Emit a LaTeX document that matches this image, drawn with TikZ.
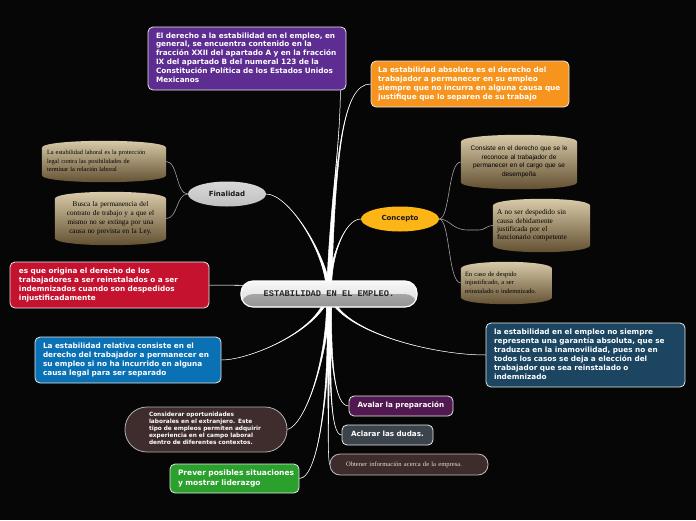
\documentclass[tikz,border=0pt]{standalone}
\usepackage{fontspec}
\usetikzlibrary{calc,shapes.geometric}
\newfontfamily\vsans{DejaVu Sans}
\newfontfamily\lsans{Liberation Sans}
\newfontfamily\lserif{Liberation Serif}
\newfontfamily\lmono{Liberation Mono}
\pgfdeclarelayer{bg}\pgfdeclarelayer{lines}\pgfsetlayers{bg,lines,main}
\definecolor{bgc}{HTML}{060606}
\definecolor{purp}{HTML}{5E2D91}
\definecolor{orng}{HTML}{F7941E}
\definecolor{redc}{HTML}{C4122F}
\definecolor{dblu}{HTML}{1B4560}
\definecolor{blu}{HTML}{0A71B4}
\definecolor{stadc}{HTML}{3F2D2D}
\definecolor{grn}{HTML}{2BA02D}
\definecolor{avalc}{HTML}{51194F}
\definecolor{aclac}{HTML}{3B434C}
\definecolor{obtc}{HTML}{3E2B2B}
\definecolor{tanA}{HTML}{DDD0AE}
\definecolor{tanB}{HTML}{B3A07A}
\definecolor{tanC}{HTML}{5E4B2D}
\definecolor{concc}{HTML}{FDB515}
\definecolor{boxline}{HTML}{E8E8E8}
\definecolor{subline}{HTML}{A0A0A0}
\newcommand\tl[1]{\begin{tabular}{@{}l@{}}#1\end{tabular}}
\newcommand\tc[1]{\begin{tabular}{@{}c@{}}#1\end{tabular}}
\newcommand\conn[4]{%
  \filldraw[white, line width=0.5pt, line join=round]
    ($(hub)-#4$) .. controls #2 and #3 .. #1 .. controls #3 and #2 .. ($(hub)+#4$) -- cycle;}
\newcommand\barrelbg[1]{%
  \shade[top color=tanA, middle color=tanB, bottom color=tanC]
    ($(#1.north west)+(0,7)$) .. controls ($(#1.north west)+(0,-2.33)$) and ($(#1.north east)+(0,-2.33)$) .. ($(#1.north east)+(0,7)$)
    -- ($(#1.south east)+(0,-7)$) .. controls ($(#1.south east)+(0,2.33)$) and ($(#1.south west)+(0,2.33)$) .. ($(#1.south west)+(0,-7)$) -- cycle;}
\tikzset{
  box/.style={draw=boxline, line width=0.8pt, rounded corners=5pt, text=white,
    font={\vsans\bfseries\fontsize{7.3}{8.9}\selectfont}, align=left, inner ysep=0pt},
  smallbox/.style={box, font={\vsans\bfseries\fontsize{7.2}{9}\selectfont}},
  barreltext/.style={inner ysep=0pt, text=black},
  bubble/.style={ellipse, minimum width=78pt, minimum height=25pt, inner sep=0pt,
    font={\vsans\bfseries\fontsize{7}{8}\selectfont}, text=black!90},
  sub/.style={draw=subline, line width=0.6pt}
}
\begin{document}
\begin{tikzpicture}[x=1pt,y=-1pt]
\useasboundingbox (0,0) rectangle (696,520);
\begin{pgfonlayer}{bg}
\fill[bgc] (0,0) rectangle (696,520);
\end{pgfonlayer}
\coordinate (hub) at (329,292);

% main box
\node[draw=white, line width=1.2pt, rounded corners=12pt, minimum width=176pt, minimum height=26pt, inner sep=0pt,
  top color=white!97!black, bottom color=white!85!black,
  path picture={\shade[top color=black!28, bottom color=black!42] (path picture bounding box.west) rectangle (path picture bounding box.south east);},
  font={\lmono\bfseries\fontsize{8.7}{10}\selectfont}, text=black!85] (main) at (329,294) {ESTABILIDAD EN EL EMPLEO.};

% boxes
\node[box, fill=purp, text width=182pt, inner xsep=8pt, minimum height=63pt] (purple) at (247,58.5)
 {\tl{El derecho a la estabilidad en el empleo, en\\general, se encuentra contenido en la\\fracción XXII del apartado A y en la fracción\\IX del apartado B del numeral 123 de la\\Constitución Política de los Estados Unidos\\Mexicanos}};
\node[box, fill=orng, text width=184pt, inner xsep=7pt, minimum height=46pt] (orange) at (470,84)
 {\tl{La estabilidad absoluta es el derecho del\\trabajador a permanecer en su empleo\\siempre que no incurra en alguna causa que\\justifique que lo separen de su trabajo}};
\node[box, fill=redc, text width=181pt, inner xsep=9pt, minimum height=46pt] (red) at (109.5,285)
 {\tl{es que origina el derecho de los\\trabajadores a ser reinstalados o a ser\\indemnizados cuando son despedidos\\injustificadamente}};
\node[box, fill=dblu, text width=183pt, inner xsep=8pt, minimum height=64pt] (dblue) at (585.5,355)
 {\tl{la estabilidad en el empleo no siempre\\representa una garantía absoluta, que se\\traduzca en la inamovilidad, pues no en\\todos los casos se deja a elección del\\trabajador que sea reinstalado o\\indemnizado}};
\node[box, fill=blu, text width=170pt, inner xsep=8pt, minimum height=46pt] (blue) at (128,360)
 {\tl{La estabilidad relativa consiste en el\\derecho del trabajador a permanecer en\\su empleo si no ha incurrido en alguna\\causa legal para ser separado}};
\node[box, fill=stadc, draw=black!30, rounded corners=22pt, text width=114pt, inner xsep=24pt, minimum height=45pt,
  font={\vsans\bfseries\fontsize{5.8}{7}\selectfont}] (stad) at (206,429.5)
 {\tl{Considerar oportunidades\\laborales en el extranjero. Este\\tipo de empleos permiten adquirir\\experiencia en el campo laboral\\dentro de diferentes contextos.}};
\node[box, fill=grn, text width=113pt, inner xsep=8pt, minimum height=29pt,
  font={\vsans\bfseries\fontsize{7.5}{9.3}\selectfont}] (green) at (234.5,478.5)
 {\tl{Prever posibles situaciones\\y mostrar liderazgo}};
\node[smallbox, fill=avalc, text width=87pt, inner xsep=8.5pt, minimum height=20pt] (aval) at (401,406)
 {\tl{Avalar la preparación}};
\node[smallbox, fill=aclac, text width=73pt, inner xsep=9pt, minimum height=20pt] (acla) at (387.5,435)
 {\tl{Aclarar las dudas.}};
\node[box, fill=obtc, draw=black!25, rounded corners=10pt, text width=126pt, inner xsep=16pt, minimum height=21pt,
  font={\lserif\fontsize{6.6}{8}\selectfont}, text=black!12] (obt) at (409,464.5)
 {\tl{Obtener información acerca de la empresa.}};

% bubbles
\node[bubble, top color=black!15, bottom color=black!25] (fin) at (227,194) {Finalidad};
\node[bubble, fill=concc] (con) at (400,219) {Concepto};

% barrel text nodes
\node[barreltext, text width=114pt, inner xsep=5pt, minimum height=41pt, align=left,
  font={\lserif\fontsize{6.3}{8.5}\selectfont}] (f1) at (104,161.5)
 {\tl{La estabilidad laboral es la protección\\legal contra las posibilidades de\\terminar la relación laboral}};
\node[barreltext, text width=103pt, inner xsep=4pt, minimum height=53pt, align=center,
  font={\lserif\fontsize{7.2}{8.9}\selectfont}] (f2) at (110.5,218.5)
 {\tc{Busca la permanencia del\\contrato de trabajo y a que el\\mismo no se extinga por una\\causa no prevista en la Ley.}};
\node[barreltext, text width=110pt, inner xsep=3pt, minimum height=54pt, align=center,
  font={\lsans\fontsize{6.5}{8.5}\selectfont}] (c1) at (519,162)
 {\tc{Consiste en el derecho que se le\\reconoce al trabajador de\\permanecer en el cargo que se\\desempeña}};
\node[barreltext, text width=89pt, inner xsep=4pt, minimum height=53pt, align=left,
  font={\lserif\fontsize{7.3}{8.2}\selectfont}] (c2) at (541.5,225.5)
 {\tl{A no ser despedido sin\\causa debidamente\\justificada por el\\funcionario competente}};
\node[barreltext, text width=83pt, inner xsep=4pt, minimum height=42pt, align=left,
  font={\lserif\fontsize{6.5}{8.5}\selectfont}] (c3) at (506.5,283)
 {\tl{En caso de despido\\injustificado, a ser\\reinstalado o indemnizado.}};

\begin{pgfonlayer}{lines}
% main connectors
\conn{($(purple.south east)+(-6,0)$)}{(330,200)}{(340,150)}{(2.4,0)}
\conn{(orange.west)}{(336,150)}{(343,84)}{(2.4,0)}
\conn{(fin.east)}{(325,250)}{(288,194)}{(2.4,0)}
\conn{(con.west)}{(331,255)}{(345,219)}{(2.4,0)}
\conn{(red.east)}{(300,286)}{(240,285)}{(0,2.4)}
\conn{(dblue.west)}{(335,330)}{(430,355)}{(2.4,0)}
\conn{(blue.east)}{(322,330)}{(250,360)}{(2.4,0)}
\conn{(stad.east)}{(328,360)}{(305,425)}{(2.4,0)}
\conn{(green.east)}{(330,380)}{(320,478)}{(2.4,0)}
\conn{(aval.west)}{(331,360)}{(334,406)}{(2.4,0)}
\conn{(acla.west)}{(330,380)}{(330,435)}{(2.4,0)}
\conn{(obt.west)}{(329,400)}{(327,455)}{(2.4,0)}
% sub connectors
\draw[sub] (fin.west) .. controls (176,194) and (178,161.5) .. (f1.east);
\draw[sub] (fin.west) .. controls (176,194) and (178,218.5) .. (f2.east);
\draw[sub] (con.east) .. controls (450,219) and (448,162) .. (c1.west);
\draw[sub] (con.east) .. controls (450,219) and (448,283) .. (c3.west);
\draw[sub] (con.east) .. controls (450,219) and (452,230) .. (468,230) -- (478,230) .. controls (486,230) and (486,225.5) .. (c2.west);
% barrels
\barrelbg{f1}
\barrelbg{f2}
\barrelbg{c1}
\barrelbg{c2}
\barrelbg{c3}
\end{pgfonlayer}
\end{tikzpicture}
\end{document}
